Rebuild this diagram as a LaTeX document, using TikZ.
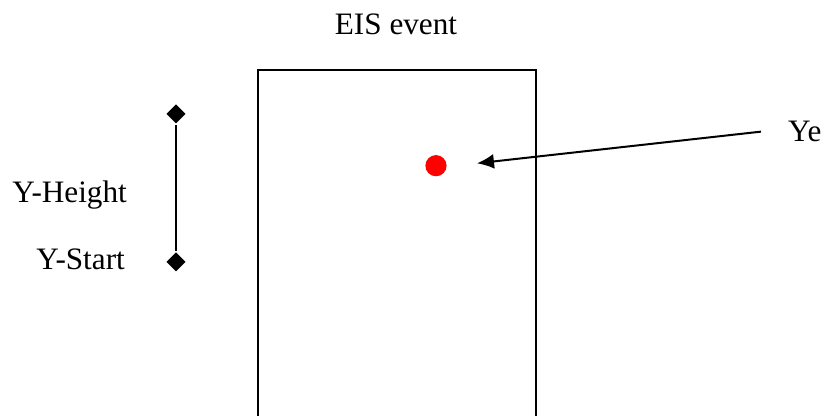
\documentclass[tikz,border=0pt]{standalone}
\usepackage{fontspec}
\setmainfont{Liberation Serif}
\usetikzlibrary{arrows.meta,shapes.geometric}

\tikzset{
  label text/.style={inner sep=0pt,font=\fontsize{15.6}{18}\selectfont},
  end mark/.style={diamond,fill=black,inner sep=0pt,minimum size=10pt},
}

\begin{document}
\begin{tikzpicture}[x=0.5pt,y=-0.5pt,line width=1.2pt,>={Latex[length=8.5pt,width=7.5pt]}]

	% Fix the page size
	\useasboundingbox (0,0) rectangle (821,416);

	% Draw the event window (open at the bottom)
	\draw (258,416) -- (258,70) -- (536,70) -- (536,416);
	\node[label text,anchor=base] (title) at (396,34.7) {EIS event};

	% Draw the height marker with its two end points
	\node[end mark] (top) at (176,114) {};
	\node[end mark] (start) at (176,262) {};
	\draw (top) -- (start);
	\node[label text,anchor=base east] (height) at (128,203) {Y-Height};
	\node[label text,anchor=base east] (ystart) at (126,270) {Y-Start};

	% Draw the red event point
	\node[circle,fill=red,inner sep=0pt,minimum size=10.6pt] (dot) at (436,165.7) {};

	% Draw the label Ye and the arrow pointing at the event
	\node[label text,inner xsep=13pt,anchor=base west] (ye) at (761,141.7) {Ye};
	\coordinate (tip) at (477,163.3);
	\draw[line width=1pt,->] (ye.west) -- (tip);

\end{tikzpicture}
\end{document}
